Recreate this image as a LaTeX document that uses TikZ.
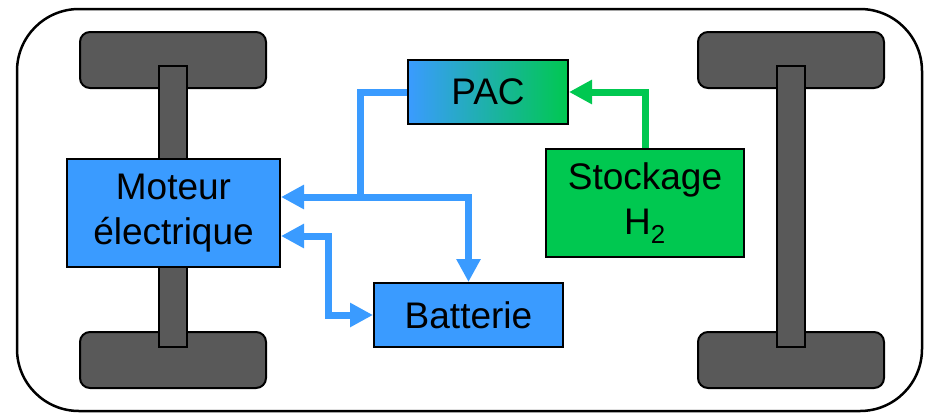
\documentclass[tikz,border=0pt]{standalone}
\usepackage{fontspec}
\setmainfont{Liberation Sans}
\usetikzlibrary{arrows.meta}

\definecolor{elecblue}{RGB}{58,155,255}
\definecolor{htwogreen}{RGB}{0,200,80}
\definecolor{wheelgray}{RGB}{89,89,89}

\begin{document}
\begin{tikzpicture}[x=1pt, y=-1pt,
	box/.style={draw=black, line width=2pt, align=center, font=\fontsize{37}{45}\selectfont},
	wheel/.style={draw=black, fill=wheelgray, line width=2pt, rounded corners=10pt},
	axle/.style={draw=black, fill=wheelgray, line width=2pt},
	elec/.style={draw=elecblue, line width=7pt},
	htwo/.style={draw=htwogreen, line width=7pt},
	>={Triangle[length=23pt, width=23pt]}
	]
	\useasboundingbox (0,0) rectangle (927,413);
	% chassis
	\draw[line width=2.5pt, rounded corners=62pt] (17,9) rectangle (922,411);
	\foreach \x in {173, 791} {
		\draw[wheel] (\x-93,32) rectangle (\x+93,88);
		\draw[wheel] (\x-93,332) rectangle (\x+93,388);
		\draw[axle] (\x-14,66) rectangle (\x+14,347);
	}
	% blocks
	\node[box, fill=elecblue, minimum width=213pt, minimum height=108pt] (moteur) at (173.5,213) {Moteur\\électrique};
	\node[box, left color=elecblue, right color=htwogreen, minimum width=160pt, minimum height=64pt] (pac) at (488,92) {PAC};
	\node[box, fill=elecblue, minimum width=189pt, minimum height=64pt] (batt) at (468.5,315) {Batterie};
	\node[box, fill=htwogreen, minimum width=198pt, minimum height=108pt] (stock) at (645,203) {Stockage\\H\textsubscript{2}};
	% flows
	\coordinate (jn) at (360,197);
	\draw[elec, ->] (pac.west) -| (jn) -- ([yshift=16pt]moteur.east);
	\draw[elec, ->] (jn) -| (batt.north);
	\draw[elec, <->] ([yshift=-23pt]moteur.east) -- ++(47,0) |- (batt.west);
	\draw[htwo, ->] (stock.north) |- (pac.east);
\end{tikzpicture}
\end{document}
